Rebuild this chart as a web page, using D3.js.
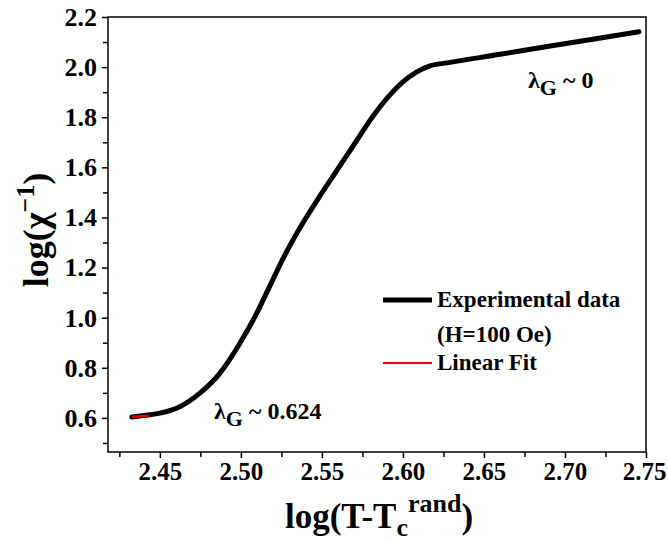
<!DOCTYPE html>
<html>
<head>
<meta charset="utf-8">
<script src="https://cdn.jsdelivr.net/npm/d3@7"></script>
<style>
  body { margin: 0; background: #fff; }
  svg text { font-family: "Liberation Serif", "Times New Roman", serif; font-weight: bold; }
</style>
</head>
<body>
<script>
// data
const expX = [2.4327, 2.4377, 2.4500, 2.4623, 2.4747, 2.4870, 2.4994, 2.5086, 2.5179, 2.5272, 2.5364,
              2.5488, 2.5568, 2.5691, 2.5815, 2.5920, 2.6000, 2.6086, 2.6167, 2.6272,
              2.6600, 2.6900, 2.7200, 2.7457];
const expY = [0.604, 0.608, 0.619, 0.645, 0.699, 0.778, 0.898, 1.003, 1.127, 1.251, 1.358,
              1.486, 1.564, 1.684, 1.804, 1.889, 1.941, 1.981, 2.005, 2.017,
              2.051, 2.083, 2.114, 2.141];
const fitX = [2.4327, 2.4435];
const fitY = [0.605, 0.608];
const xTicks = [2.45, 2.50, 2.55, 2.60, 2.65, 2.70, 2.75];
const xMinor = [2.425, 2.475, 2.525, 2.575, 2.625, 2.675, 2.725];
const yTicks = [0.6, 0.8, 1.0, 1.2, 1.4, 1.6, 1.8, 2.0, 2.2];
const yMinor = [0.5, 0.7, 0.9, 1.1, 1.3, 1.5, 1.7, 1.9, 2.1];

const W = 668, H = 542;
const margin = {top: 17, right: 22, bottom: 90, left: 108};

const svg = d3.select("body").append("svg")
    .attr("width", W)
    .attr("height", H);

const x = d3.scaleLinear().domain([2.418, 2.75]).range([margin.left, W - margin.right]);
const y = d3.scaleLinear().domain([0.464, 2.2]).range([H - margin.bottom, margin.top]);

// minor ticks first, then labelled ones
svg.append("g")
    .attr("transform", `translate(0,${H - margin.bottom})`)
    .call(d3.axisBottom(x).tickValues(xMinor).tickSize(5).tickFormat(""))
    .call(g => g.select(".domain").remove());
svg.append("g")
    .attr("transform", `translate(${margin.left},0)`)
    .call(d3.axisLeft(y).tickValues(yMinor).tickSize(5).tickFormat(""))
    .call(g => g.select(".domain").remove());

const xAxis = svg.append("g")
    .attr("transform", `translate(0,${H - margin.bottom})`)
    .call(d3.axisBottom(x).tickValues(xTicks).tickSize(6).tickPadding(4).tickFormat(d3.format(".2f")));
xAxis.select(".domain").remove();
xAxis.selectAll("text").attr("font-size", "25px").attr("fill", "#000");
// last label sits right at the page edge
xAxis.selectAll("text").filter(d => d === 2.75).attr("x", -2);

const yAxis = svg.append("g")
    .attr("transform", `translate(${margin.left},0)`)
    .call(d3.axisLeft(y).tickValues(yTicks).tickSize(6).tickPadding(5).tickFormat(d3.format(".1f")));
yAxis.select(".domain").remove();
yAxis.selectAll("text").attr("font-size", "26px").attr("fill", "#000");

svg.selectAll(".tick line").attr("stroke", "#000").attr("stroke-width", 1.5);

// frame
svg.append("rect")
    .attr("x", margin.left)
    .attr("y", margin.top)
    .attr("width", W - margin.left - margin.right)
    .attr("height", H - margin.top - margin.bottom)
    .attr("fill", "none")
    .attr("stroke", "#000")
    .attr("stroke-width", 1.5);

const line = d3.line().x(d => x(d[0])).y(d => y(d[1])).curve(d3.curveMonotoneX);

svg.append("path")
    .datum(expX.map((v, i) => [v, expY[i]]))
    .attr("d", line)
    .attr("fill", "none")
    .attr("stroke", "#000")
    .attr("stroke-width", 5)
    .attr("stroke-linecap", "round");

svg.append("path")
    .datum(fitX.map((v, i) => [v, fitY[i]]))
    .attr("d", line)
    .attr("fill", "none")
    .attr("stroke", "#e00000")
    .attr("stroke-width", 2.5);

// legend
const legend = svg.append("g").attr("transform", "translate(383,300)");
legend.append("line").attr("x1", 0).attr("x2", 49).attr("y1", 0).attr("y2", 0)
    .attr("stroke", "#000").attr("stroke-width", 5);
legend.append("text").attr("x", 54).attr("y", 7).attr("font-size", "23px").text("Experimental data");
legend.append("text").attr("x", 54).attr("y", 42).attr("font-size", "23px").text("(H=100 Oe)");
legend.append("line").attr("x1", 0).attr("x2", 49).attr("y1", 63).attr("y2", 63)
    .attr("stroke", "#e00000").attr("stroke-width", 2);
legend.append("text").attr("x", 54).attr("y", 70).attr("font-size", "23px").text("Linear Fit");

// annotations
const ann1 = svg.append("text").attr("x", 214).attr("y", 419).attr("font-size", "24px");
ann1.append("tspan").text("λ");
ann1.append("tspan").attr("dy", 7).attr("font-size", "22px").text("G");
ann1.append("tspan").attr("dy", -7).text(" ~ 0.624");

const ann2 = svg.append("text").attr("x", 528).attr("y", 88).attr("font-size", "24px");
ann2.append("tspan").text("λ");
ann2.append("tspan").attr("dy", 7).attr("font-size", "22px").text("G");
ann2.append("tspan").attr("dy", -7).text(" ~ 0");

// axis titles
const xt = svg.append("text")
    .attr("x", 379)
    .attr("y", 528)
    .attr("text-anchor", "middle")
    .attr("font-size", "35px");
xt.append("tspan").text("log(T-T");
xt.append("tspan").attr("dy", 8).attr("font-size", "26px").text("c");
xt.append("tspan").attr("dy", -24).attr("font-size", "26px").text("rand");
xt.append("tspan").attr("dy", 16).text(")");

const yt = svg.append("text")
    .attr("transform", "translate(48,230) rotate(-90)")
    .attr("text-anchor", "middle")
    .attr("font-size", "36px");
yt.append("tspan").text("log(χ");
yt.append("tspan").attr("dy", -14).attr("font-size", "26px").text("−1");
yt.append("tspan").attr("dy", 14).text(")");
</script>
</body>
</html>
